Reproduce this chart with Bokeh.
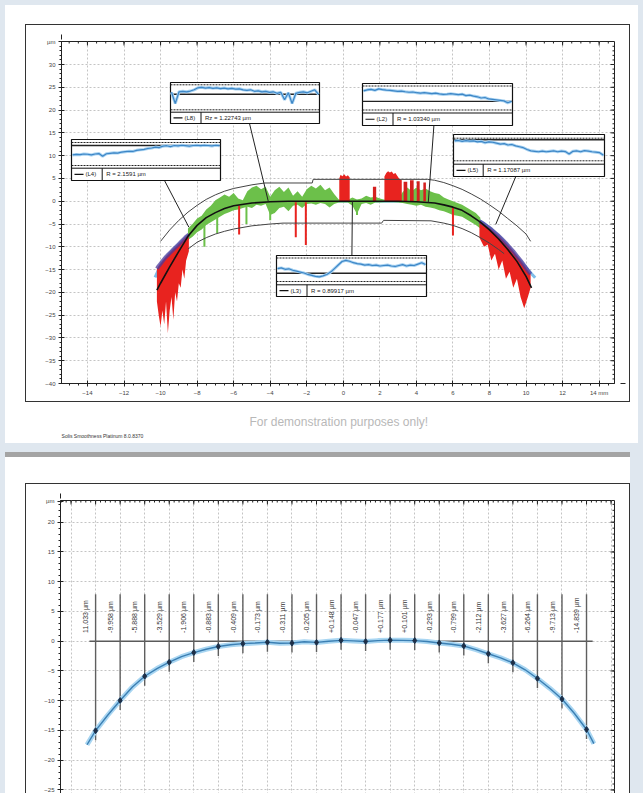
import math
from bokeh.plotting import figure
from bokeh.layouts import column
from bokeh.models import Range1d, FixedTicker, Arrow, NormalHead
from bokeh.core.properties import value
from bokeh.embed import file_html
from bokeh.resources import INLINE

FONT = "Liberation Sans"

# ---------------- Chart 1 data ----------------
x_ticks_1 = [-14, -12, -10, -8, -6, -4, -2, 0, 2, 4, 6, 8, 10, 12, 14]
y_ticks_1 = [30, 25, 20, 15, 10, 5, 0, -5, -10, -15, -20, -25, -30, -35, -40]

nom_x = [-10.2, -10.0, -9.5, -9.0, -8.5, -8.0, -7.5, -7.0, -6.5, -6.0, -5.0, -4.0, -3.0,
         3.0, 4.0, 5.0, 5.5, 6.0, 6.5, 7.0, 7.5, 8.0, 8.5, 9.0, 9.5, 10.0, 10.3]
nom_y = [-19.5, -18.0, -14.4, -11.0, -7.7, -5.3, -3.6, -2.5, -1.6, -1.0, -0.4, -0.1, 0.0,
         0.0, -0.1, -0.4, -0.8, -1.3, -2.0, -3.2, -4.6, -6.3, -8.3, -10.6, -13.2, -16.5, -19.0]

up_x = [-10.0, -9.5, -9.0, -8.5, -8.0, -7.5, -7.0, -6.5, -6.0, -5.0, -4.3, -1.7, -1.65,
        4.6, 5.0, 5.5, 6.0, 6.5, 7.0, 7.5, 8.0, 8.5, 9.0, 9.5, 10.0, 10.25]
up_y = [-8.8, -6.3, -4.2, -2.4, -0.9, 0.4, 1.4, 2.2, 2.8, 3.6, 4.0, 4.0, 4.8,
        4.8, 4.6, 4.1, 3.4, 2.6, 1.6, 0.5, -0.8, -2.2, -3.8, -5.4, -7.2, -8.8]

lo_x = [-8.5, -8.0, -7.5, -7.0, -6.5, -6.0, -5.0, -4.0, -3.3, 2.1, 2.2, 4.8, 5.5, 6.0,
        6.5, 7.0, 7.5, 8.0, 8.5, 8.8]
lo_y = [-10.5, -9.0, -8.0, -7.2, -6.6, -6.1, -5.4, -5.0, -4.8, -4.8, -4.2, -4.3, -4.8, -5.3,
        -6.0, -6.9, -8.0, -9.2, -10.6, -11.5]

prof_x = [-10.3, -10.0, -9.5, -9.0, -8.5, -8.0, -7.5, -7.0, -6.5, -6.0, -5.0, -4.0, -3.0,
          3.0, 4.0, 5.0, 6.0, 6.5, 7.0, 7.5, 8.0, 8.5, 9.0, 9.5, 10.0, 10.5]
prof_y = [-16.7, -14.0, -11.5, -9.5, -7.6, -5.6, -4.0, -2.8, -1.8, -1.1, -0.4, -0.1, 0.0,
          0.0, -0.1, -0.4, -1.3, -2.1, -3.2, -4.4, -5.8, -7.6, -9.8, -12.3, -14.6, -16.8]

green_x = [-8.5, -8.25, -8.0, -7.75, -7.5, -7.25, -7.0, -6.75, -6.5, -6.25, -6.0, -5.75, -5.5,
           -5.25, -5.0, -4.75, -4.5, -4.25, -4.0, -3.75, -3.5, -3.25, -3.0, -2.75, -2.5, -2.25,
           -2.0, -1.75, -1.5, -1.25, -1.0, -0.75, -0.5, -0.25, 0.0, 0.25, 0.5, 0.75, 1.0, 1.25,
           1.5, 1.75, 2.0, 2.25, 2.5, 2.75, 3.0, 3.25, 3.5, 3.75, 4.0, 4.25, 4.5, 4.75, 5.0,
           5.25, 5.5, 5.75, 6.0, 6.25, 6.5, 6.75, 7.0, 7.25, 7.5]
green_hi = [-6.0, -5.0, -3.8, -3.2, -1.8, -1.0, 0.2, 0.8, 1.5, 1.0, 1.8, 0.6, 0.2,
            2.2, 3.0, 3.4, 2.6, 3.2, 1.0, 2.4, 3.2, 2.0, 3.0, 1.2, 2.2, 1.0,
            2.6, 3.4, 2.8, 3.6, 2.4, 3.0, 1.6, 0.4, 0.3, 0.3, 0.8, 0.4, 0.6, 1.2,
            0.8, 1.0, 0.6, 0.3, 0.3, 0.3, 0.3, 2.0, 3.0, 2.2, 3.0, 2.4, 2.8, 2.2, 1.8,
            1.6, 0.8, 0.4, 0.0, -0.4, -0.8, -1.4, -2.0, -2.6, -3.6]
green_lo = [-8.5, -7.8, -6.8, -6.2, -5.2, -4.6, -4.0, -3.4, -2.8, -2.4, -2.0, -1.8, -1.5,
            -1.2, -1.5, -0.8, -1.0, -0.6, -3.0, -2.6, -1.5, -1.2, -2.2, -1.0, -0.8, -1.5,
            -0.6, -0.5, -0.8, -0.4, -0.6, -1.4, -0.6, -0.3, -0.3, -0.3, -1.0, -2.8, -0.6, -0.4,
            -0.8, -0.3, -0.3, -0.2, -0.2, -0.2, -0.3, -0.4, -0.6, -0.8, -1.0, -0.8, -1.2, -1.4, -1.6,
            -2.0, -2.2, -2.6, -3.0, -3.2, -3.4, -4.0, -4.6, -5.2, -6.0]

red_l_x = [-10.2, -10.1, -10.0, -9.9, -9.8, -9.7, -9.6, -9.5, -9.4, -9.3, -9.2, -9.1, -9.0,
           -8.9, -8.8, -8.7, -8.6, -8.45]
red_l_top = [-14.8, -14.2, -13.7, -13.2, -12.7, -12.2, -11.8, -11.4, -11.0, -10.6, -10.2, -9.8,
             -9.4, -9.0, -8.6, -8.2, -7.8, -7.3]
red_l_bot = [-22.0, -25.0, -27.5, -24.0, -27.0, -22.0, -29.0, -24.0, -21.0, -26.0, -20.0, -22.0,
             -18.0, -19.0, -15.0, -17.0, -13.0, -11.0]

red_r_x = [7.45, 7.7, 7.9, 8.1, 8.3, 8.5, 8.7, 8.9, 9.1, 9.3, 9.5, 9.7, 9.9, 10.1, 10.25]
red_r_top = [-4.4, -5.0, -5.6, -6.2, -6.9, -7.6, -8.4, -9.2, -10.1, -11.0, -12.0, -13.0, -14.1,
             -15.2, -16.0]
red_r_bot = [-8.0, -10.0, -9.5, -13.0, -11.5, -15.0, -13.0, -17.0, -15.5, -19.0, -17.0, -21.0,
             -23.5, -21.0, -19.0]

red_c1_x = [-0.22, -0.15, -0.05, 0.05, 0.15, 0.25, 0.35]
red_c1_top = [5.0, 5.8, 5.5, 5.9, 5.4, 5.7, 5.2]
red_c2_x = [2.25, 2.35, 2.45, 2.55, 2.65, 2.75, 2.85, 2.95, 3.05, 3.2]
red_c2_top = [5.4, 6.2, 6.6, 6.3, 6.5, 6.0, 6.2, 5.6, 5.0, 4.6]

strip_l = [1.62, 3.30, 3.65, 4.02, 4.38]
strip_r = [1.80, 3.50, 3.85, 4.18, 4.52]
strip_top = [3.2, 4.3, 4.6, 4.4, 4.1]

spike_x = [-5.7, -2.6, -2.05, 6.0, -7.6, -6.9, -5.3, -4.0, 0.75]
spike_y0 = [-1.0, -0.2, -0.2, -1.3, -4.0, -3.0, -1.0, -1.0, -0.5]
spike_y1 = [-7.3, -7.9, -9.6, -7.5, -10.0, -7.0, -5.0, -4.2, -3.0]
spike_col = ["#e8231f"] * 4 + ["#6cc04a"] * 5

inset_tags = ["(L4)", "(L8)", "(L2)", "(L5)", "(L3)"]
inset_vals = ["R = 2.1591 µm", "Rz = 1.22743 µm", "R = 1.03340 µm", "R = 1.17087 µm", "R = 0.89917 µm"]
inset_mean = [0.87, 0.62, 0.36, 0.93, 0.35]
profA = [0.46, 0.48, 0.47, 0.50, 0.49, 0.46, 0.50, 0.52, 0.40, 0.51, 0.53, 0.55, 0.54, 0.58, 0.60,
         0.62, 0.61, 0.66, 0.68, 0.70, 0.74, 0.76, 0.80, 0.78, 0.84, 0.86, 0.82, 0.87, 0.85, 0.88,
         0.86, 0.84, 0.87, 0.88, 0.86, 0.88, 0.87, 0.85, 0.88, 0.86]
profB = [0.70, 0.25, 0.72, 0.74, 0.72, 0.75, 0.80, 0.88, 0.90, 0.87, 0.89, 0.86, 0.88, 0.85, 0.87,
         0.84, 0.86, 0.83, 0.84, 0.80, 0.78, 0.80, 0.74, 0.76, 0.72, 0.74, 0.70, 0.72, 0.66, 0.70,
         0.40, 0.68, 0.25, 0.66, 0.70, 0.72, 0.68, 0.74, 0.80, 0.62]
profC = [0.80, 0.84, 0.86, 0.82, 0.88, 0.85, 0.83, 0.82, 0.80, 0.78, 0.79, 0.76, 0.74, 0.75, 0.72,
         0.70, 0.72, 0.70, 0.68, 0.70, 0.67, 0.65, 0.66, 0.68, 0.66, 0.64, 0.66, 0.60, 0.62, 0.58,
         0.55, 0.50, 0.52, 0.46, 0.44, 0.42, 0.40, 0.38, 0.30, 0.36]
profD = [0.88, 0.90, 0.86, 0.89, 0.87, 0.88, 0.84, 0.86, 0.80, 0.84, 0.82, 0.78, 0.74, 0.76, 0.70,
         0.72, 0.66, 0.62, 0.58, 0.50, 0.44, 0.42, 0.40, 0.43, 0.40, 0.42, 0.44, 0.40, 0.43, 0.41,
         0.30, 0.42, 0.44, 0.40, 0.45, 0.43, 0.40, 0.38, 0.36, 0.25]
profE = [0.55, 0.58, 0.52, 0.54, 0.48, 0.44, 0.40, 0.36, 0.30, 0.26, 0.22, 0.20, 0.24, 0.30, 0.40,
         0.55, 0.70, 0.85, 0.90, 0.86, 0.80, 0.76, 0.74, 0.70, 0.72, 0.68, 0.70, 0.66, 0.68, 0.70,
         0.66, 0.64, 0.68, 0.72, 0.66, 0.70, 0.68, 0.74, 0.80, 0.72]
inset_profiles = [profA, profB, profC, profD, profE]
lead_x = [-8.45, -4.1, 4.65, 8.34, 0.5]
lead_y = [-5.7, -0.1, -0.3, -5.1, 0.0]

# ---------------- Chart 2 data ----------------
y_ticks_2 = [20, 15, 10, 5, 0, -5, -10, -15, -20, -25]
m_x = [-10, -9, -8, -7, -6, -5, -4, -3, -2, -1, 0, 1, 2, 3, 4, 5, 6, 7, 8, 9, 10]
m_val = [-15.033, -9.958, -5.888, -3.529, -1.906, -0.883, -0.409, -0.173, -0.311, -0.205, 0.148,
         -0.047, 0.177, 0.101, -0.293, -0.799, -2.112, -3.627, -6.264, -9.713, -14.839]
m_labels = ["11.033 µm", "-9.958 µm", "-5.888 µm", "-3.529 µm", "-1.906 µm", "-0.883 µm",
            "-0.409 µm", "-0.173 µm", "-0.311 µm", "-0.205 µm", "+0.148 µm", "-0.047 µm",
            "+0.177 µm", "+0.101 µm", "-0.293 µm", "-0.799 µm", "-2.112 µm", "-3.627 µm",
            "-6.264 µm", "-9.713 µm", "-14.839 µm"]
p2_x = [-10.35, -10.0, -9.5, -9.0, -8.5, -8.0, -7.5, -7.0, -6.5, -6.0, -5.5, -5.0, -4.5, -4.0,
        -3.5, -3.0, -2.5, -2.0, -1.5, -1.0, -0.5, 0.0, 0.5, 1.0, 1.5, 2.0, 2.5, 3.0, 3.5, 4.0,
        4.5, 5.0, 5.5, 6.0, 6.5, 7.0, 7.5, 8.0, 8.5, 9.0, 9.5, 10.0, 10.3]
p2_y = [-17.4, -15.03, -12.4, -9.96, -7.7, -5.89, -4.6, -3.53, -2.6, -1.91, -1.35, -0.88, -0.6,
        -0.41, -0.3, -0.17, -0.35, -0.31, -0.1, -0.2, 0.0, 0.15, 0.05, -0.05, 0.1, 0.18, 0.15,
        0.1, -0.05, -0.29, -0.5, -0.8, -1.4, -2.11, -2.8, -3.63, -4.8, -6.26, -7.9, -9.71,
        -12.1, -14.84, -17.2]

caption_text = "For demonstration purposes only!"
footer_text = "Solis Smoothness Platinum 8.0.8370"

# ---------------- layout constants (page pixels) ----------------
PAGE_BG = "#dfe7ef"
FW = 605
H1 = 378
L1, R1, T1, B1 = 35, 17, 16, 20
X1_START, X1_END = -15.42, 14.84
Y1_START, Y1_END = -40.0, 35.05
PX1 = (FW - L1 - R1) / (X1_END - X1_START)
PY1 = (H1 - T1 - B1) / (Y1_END - Y1_START)
PLOT1_LEFT, PLOT1_TOP = 60, 40


def X1(rx):
    return X1_START + (rx - PLOT1_LEFT) / PX1


def Y1(ry):
    return Y1_END - (ry - PLOT1_TOP) / PY1


def style_axis(ax):
    ax.axis_line_color = "#222222"
    ax.axis_line_width = 1
    ax.major_tick_line_color = "#222222"
    ax.minor_tick_line_color = "#222222"
    ax.major_tick_in = 3
    ax.major_tick_out = 3
    ax.minor_tick_in = 0
    ax.minor_tick_out = 2
    ax.major_label_text_font = FONT
    ax.major_label_text_color = "#444444"
    ax.major_label_text_font_size = "6px"
    ax.major_label_standoff = 3


def style_grid(p):
    for g in (p.xgrid, p.ygrid):
        g.grid_line_color = "#c4c4c4"
        g.grid_line_dash = "2 2"
        g.grid_line_width = 1


def inner_ticks(p, xt, xmin, yt, ymin, xe, ye, px, py):
    p.segment(x0=xt, y0=[ye] * len(xt), x1=xt, y1=[ye - 4 / py] * len(xt), line_color="#222222", line_width=1)
    p.segment(x0=xmin, y0=[ye] * len(xmin), x1=xmin, y1=[ye - 2 / py] * len(xmin), line_color="#222222", line_width=1)
    p.segment(x0=[xe] * len(yt), y0=yt, x1=[xe - 4 / px] * len(yt), y1=yt, line_color="#222222", line_width=1)
    p.segment(x0=[xe] * len(ymin), y0=ymin, x1=[xe - 2 / px] * len(ymin), y1=ymin, line_color="#222222", line_width=1)


# ================= Figure 1 =================
p1 = figure(width=FW, height=H1, x_range=Range1d(X1_START, X1_END), y_range=Range1d(Y1_START, Y1_END),
            output_backend="svg", toolbar_location=None,
            min_border_left=L1, min_border_right=R1, min_border_top=T1, min_border_bottom=B1,
            margin=(19, 0, 0, 20), styles={"border": "1px solid #333333"})
p1.outline_line_color = "#222222"
p1.background_fill_color = "white"
p1.border_fill_color = "white"

minor_x1 = [i * 0.5 for i in range(-31, 30)]
minor_y1 = [float(i) for i in range(-40, 35)]
p1.xaxis[0].ticker = FixedTicker(ticks=x_ticks_1, minor_ticks=minor_x1)
p1.xaxis[0].major_label_overrides = {14: "14 mm"}
p1.yaxis[0].ticker = FixedTicker(ticks=y_ticks_1 + [35], minor_ticks=minor_y1)
p1.yaxis[0].major_label_overrides = {35: "µm"}
style_axis(p1.xaxis[0])
style_axis(p1.yaxis[0])
style_grid(p1)
p1.ygrid[0].ticker = FixedTicker(ticks=y_ticks_1)
inner_ticks(p1, x_ticks_1, minor_x1, y_ticks_1, minor_y1, X1_END, Y1_END, PX1, PY1)

p1.line(prof_x, prof_y, line_color="#7fbde8", line_width=3)
p1.varea(x=green_x, y1=green_lo, y2=green_hi, fill_color="#6cc04a")
p1.varea(x=red_l_x, y1=red_l_bot, y2=red_l_top, fill_color="#e8231f")
p1.varea(x=red_r_x, y1=red_r_bot, y2=red_r_top, fill_color="#e8231f")
p1.varea(x=red_c1_x, y1=[0.0] * len(red_c1_x), y2=red_c1_top, fill_color="#e8231f")
p1.varea(x=red_c2_x, y1=[0.0] * len(red_c2_x), y2=red_c2_top, fill_color="#e8231f")
p1.quad(left=strip_l, right=strip_r, bottom=[0.0] * len(strip_l), top=strip_top,
        fill_color="#d42020", line_color=None)
p1.segment(x0=spike_x, y0=spike_y0, x1=spike_x, y1=spike_y1, line_color=spike_col, line_width=2)
p1.line(red_l_x, red_l_top, line_color="#4b3a9c", line_width=4, line_alpha=0.75)
p1.line(red_r_x, red_r_top, line_color="#4b3a9c", line_width=4, line_alpha=0.75)
p1.line(nom_x, nom_y, line_color="#111111", line_width=1.6)
p1.line(up_x, up_y, line_color="#444444", line_width=1)
p1.line(lo_x, lo_y, line_color="#444444", line_width=1)

inset_boxes = [  # left, top, right, bottom, sep, dash_top, dash_bottom, divider, anchor_x, anchor_y
    (70, 138, 219, 179, 166.7, 141.0, 164.0, 100.7, 163.0, 179.0),
    (169, 81, 318, 122, 110.7, 83.3, 108.3, 199.5, 248.0, 122.0),
    (361, 82, 511, 124, 111.5, 84.5, 108.5, 391.5, 432.4, 124.0),
    (452, 133, 603, 175, 162.7, 136.7, 159.3, 481.7, 514.3, 175.0),
    (275, 254, 425, 295, 283.3, 256.5, 280.0, 305.5, 350.4, 254.0),
]
for i, (l, t, r, b, sep, dt, db, dv, axp, ayp) in enumerate(inset_boxes):
    p1.segment(x0=[X1(axp)], y0=[Y1(ayp)], x1=[lead_x[i]], y1=[lead_y[i]],
               line_color="#222222", line_width=1)
    p1.quad(left=[X1(l)], right=[X1(r)], top=[Y1(t)], bottom=[Y1(b)],
            fill_color="white", line_color="#111111", line_width=1.2)
    y_dt, y_db = Y1(dt), Y1(db)
    p1.segment(x0=[X1(l), X1(l)], y0=[y_dt, y_db], x1=[X1(r), X1(r)], y1=[y_dt, y_db],
               line_color="#222222", line_width=1, line_dash="2 1")
    ym = y_db + inset_mean[i] * (y_dt - y_db)
    p1.segment(x0=[X1(l)], y0=[ym], x1=[X1(r)], y1=[ym], line_color="#222222", line_width=1.4)
    prof = inset_profiles[i]
    n = len(prof)
    xs = [X1(l + 1 + (r - l - 2) * k / (n - 1)) for k in range(n)]
    ys = [y_db + v * (y_dt - y_db) for v in prof]
    p1.line(xs, ys, line_color="#a9d3f2", line_width=3)
    p1.line(xs, ys, line_color="#3d86c6", line_width=1.2)
    p1.segment(x0=[X1(l), X1(dv)], y0=[Y1(sep), Y1(sep)], x1=[X1(r), X1(dv)], y1=[Y1(sep), Y1(b)],
               line_color="#111111", line_width=1)
    yrow = Y1((sep + b) / 2)
    p1.segment(x0=[X1(l + 3)], y0=[yrow], x1=[X1(l + 12)], y1=[yrow], line_color="#111111", line_width=1.2)
    p1.text(x=[X1(l + 14)], y=[yrow], text=[inset_tags[i]], text_font=value(FONT),
            text_font_size="6px", text_baseline="middle", text_color="#222222")
    p1.text(x=[X1(dv + 4)], y=[yrow], text=[inset_vals[i]], text_font=value(FONT),
            text_font_size="6px", text_baseline="middle", text_color="#222222")

p1.add_layout(Arrow(end=NormalHead(size=5, fill_color="#222222", line_color="#222222"),
                    x_start=L1, y_start=T1, x_end=L1, y_end=T1 - 7,
                    start_units="canvas", end_units="canvas", line_color="#222222", line_width=1))
p1.add_layout(Arrow(end=NormalHead(size=5, fill_color="#222222", line_color="#222222"),
                    x_start=FW - R1, y_start=H1 - B1, x_end=FW - R1 + 11, y_end=H1 - B1,
                    start_units="canvas", end_units="canvas", line_color="#222222", line_width=1))

# ================= caption strip (ref y 402..443) =================
CAP_H = 41
cap = figure(width=633, height=CAP_H, x_range=Range1d(5, 638), y_range=Range1d(0, CAP_H),
             output_backend="svg", toolbar_location=None, min_border=0, margin=(0, 0, 0, 0))
cap.axis.visible = False
cap.grid.visible = False
cap.outline_line_color = None
cap.background_fill_color = "white"
cap.border_fill_color = "white"
cap.text(x=[330], y=[CAP_H - 19], text=[caption_text], text_font=value(FONT), text_font_size="12px",
         text_align="center", text_baseline="middle", text_color="#b8b8b8")
cap.text(x=[28], y=[CAP_H - 33], text=[footer_text], text_font=value(FONT), text_font_size="5px",
         text_align="left", text_baseline="middle", text_color="#333333")

# ================= Figure 2 =================
H2 = 310
L2, R2, T2, B2 = 34, 17, 16, 0
X2_START, X2_END = -11.43, 11.14
Y2_END = 23.65
PY2 = 5.95
Y2_START = Y2_END - (H2 - T2) / PY2
PX2 = (FW - L2 - R2) / (X2_END - X2_START)
p2 = figure(width=FW, height=H2, x_range=Range1d(X2_START, X2_END), y_range=Range1d(Y2_START, Y2_END),
            output_backend="svg", toolbar_location=None,
            min_border_left=L2, min_border_right=R2, min_border_top=T2, min_border_bottom=B2,
            margin=(26, 0, 0, 20),
            styles={"border-top": "1px solid #333333", "border-left": "1px solid #333333",
                    "border-right": "1px solid #333333"})
p2.outline_line_color = "#222222"
p2.background_fill_color = "white"
p2.border_fill_color = "white"
x_grid_2 = list(range(-11, 12))
minor_x2 = [i * 0.2 for i in range(-57, 56)]
minor_y2 = [float(i) for i in range(-26, 24)]
p2.xaxis.visible = False
style_grid(p2)
p2.xgrid[0].ticker = FixedTicker(ticks=x_grid_2)
p2.yaxis[0].ticker = FixedTicker(ticks=y_ticks_2 + [23.5], minor_ticks=minor_y2)
p2.yaxis[0].major_label_overrides = {23.5: "µm"}
p2.ygrid[0].ticker = FixedTicker(ticks=y_ticks_2)
style_axis(p2.yaxis[0])
inner_ticks(p2, x_grid_2, minor_x2, y_ticks_2, minor_y2, X2_END, Y2_END, PX2, PY2)

p2.segment(x0=[-10.25], y0=[0], x1=[10.25], y1=[0], line_color="#5a5a5a", line_width=1.6)
p2.segment(x0=m_x, y0=[7.9] * len(m_x), x1=m_x, y1=[v - 1.6 for v in m_val],
           line_color="#5f5f5f", line_width=1.4)
p2.line(p2_x, p2_y, line_color="#a9d6f2", line_width=5)
p2.line(p2_x, p2_y, line_color="#3b7fb3", line_width=1.4)
p2.scatter(m_x, m_val, marker="diamond", size=6, fill_color="#1d2f48", line_color="#1d2f48")
p2.text(x=[v - 0.4 for v in m_x], y=[1.4] * len(m_x), text=m_labels, angle=math.pi / 2,
        text_font=value(FONT), text_font_size="7px", text_align="left", text_baseline="middle",
        text_color="#333333")
p2.add_layout(Arrow(end=NormalHead(size=5, fill_color="#222222", line_color="#222222"),
                    x_start=L2, y_start=T2, x_end=L2, y_end=T2 - 7,
                    start_units="canvas", end_units="canvas", line_color="#222222", line_width=1))

page1 = column(p1, cap, spacing=0, margin=(5, 5, 0, 5), styles={"background-color": "white"})
page2 = column(p2, spacing=0, margin=(9, 5, 0, 5),
               styles={"background-color": "white", "border-top": "5px solid #a4a4a4"})
layout = column(page1, page2, spacing=0, styles={"background-color": PAGE_BG})
open("out.html", "w").write(file_html(layout, INLINE))
